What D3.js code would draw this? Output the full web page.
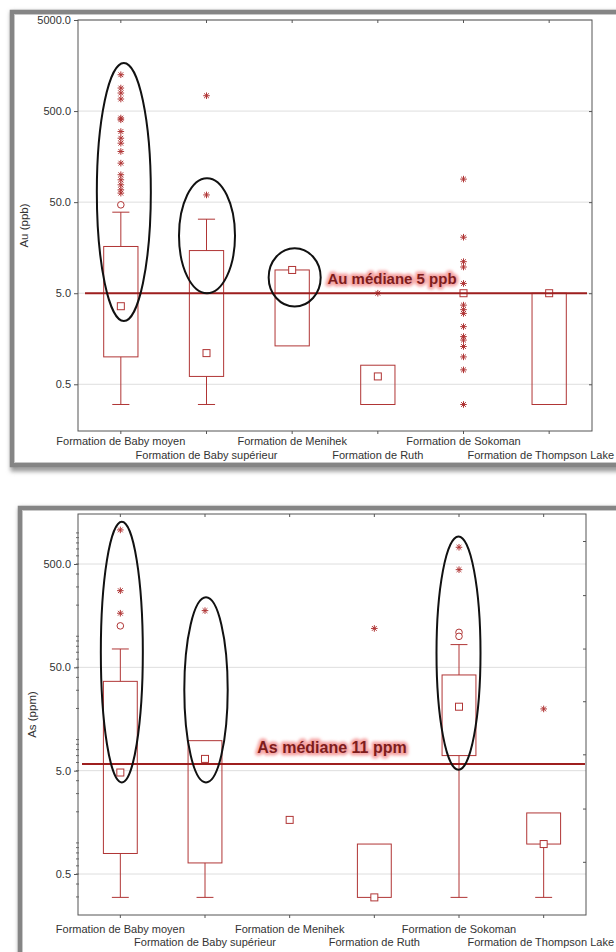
<!DOCTYPE html>
<html><head><meta charset="utf-8">
<script src="https://cdn.jsdelivr.net/npm/d3@7"></script>
<style>body{margin:0;background:#fff}svg{display:block}text{font-family:"Liberation Sans",Arial,sans-serif}</style>
</head><body>
<script>
// ---------- DATA ----------
const categories = ["Formation de Baby moyen","Formation de Baby supérieur","Formation de Menihek","Formation de Ruth","Formation de Sokoman","Formation de Thompson Lake"];

// Au (ppb)
const auTicks = [5000, 500, 50, 5, 0.5];
const auMedian = [3.6, 1.1, 9.0, 0.61, 5.0, 5.0];
const auQ1 = [1.0, 0.61, 1.32, 0.30, null, 0.30];
const auQ3 = [16.3, 14.7, 9.0, 0.81, null, 5.0];
const auMin = [0.30, 0.30, null, null, null, null];
const auMax = [38.8, 32.5, null, null, null, null];
const auOutliers = [[46.7], [], [], [], [], []];
const auExtremes = [
  [1253, 895, 789, 678, 419, 401, 298, 252, 222, 180, 134, 100, 88, 77.5, 68.3, 62.8],
  [737, 60], [], [5.0],
  [89.5, 20.6, 11.1, 9.7, 6.4, 3.7, 3.3, 3.0, 2.15, 1.67, 1.53, 1.3, 1.0, 0.72, 0.30],
  []];
const auMedianLine = 5;
const auMedianLabel = "Au médiane 5 ppb";
const auEllipses = [ // [category index, top value, bottom value]
  [0, 1687, 2.48], [1, 91.6, 5.0], [2, 15.6, 3.57]];

// As (ppm)
const asTicks = [500, 50, 5, 0.5];
const asRightTicks = [835, 250, 76, 23.5, 7.2, 2.15, 0.656];
const asMedian = [4.8, 6.5, 1.67, 0.297, 20.8, 0.975];
const asQ1 = [0.79, 0.64, null, 0.297, 7.0, 0.975];
const asQ3 = [36.6, 9.76, null, 0.975, 42.2, 1.95];
const asMin = [0.297, 0.297, null, null, 0.297, 0.297];
const asMax = [75.3, null, null, null, 83, null];
const asOutliers = [[126], [], [], [], [109, 99.8], []];
const asExtremes = [[1069, 276, 167], [177], [], [119], [726, 441], [19.8]];
const asMedianLine = 5.8;
const asMedianLabel = "As médiane 11 ppm";
const asEllipses = [[0, 1285, 3.85], [1, 238, 3.85], [4, 925, 5.1]];

// ---------- DRAW ----------
const W = 616, H = 952;
const svg = d3.select("body").append("svg").attr("width", W).attr("height", H);
const defs = svg.append("defs");
const blur = defs.append("filter").attr("id","blur").attr("x","-10%").attr("y","-10%").attr("width","120%").attr("height","120%");
blur.append("feGaussianBlur").attr("stdDeviation", 2.2);
const glow = defs.append("filter").attr("id","glow").attr("x","-20%").attr("y","-50%").attr("width","140%").attr("height","200%");
glow.append("feGaussianBlur").attr("stdDeviation", 1.6);

const RED = "#b03535";

function frame(x0, y0, w, h) {
  svg.append("rect").attr("x", x0 + 2).attr("y", y0 + 3).attr("width", w).attr("height", h)
    .attr("fill", "none").attr("stroke", "#9a9a9a").attr("stroke-width", 7).attr("filter", "url(#blur)");
  svg.append("rect").attr("x", x0).attr("y", y0).attr("width", w).attr("height", h)
    .attr("fill", "#fff").attr("stroke", "#858585").attr("stroke-width", 4.5);
  svg.append("rect").attr("x", x0 + 2.5).attr("y", y0 + 2.5).attr("width", w - 5).attr("height", h - 5)
    .attr("fill", "none").attr("stroke", "#c8c8c8").attr("stroke-width", 1);
}

function starPath(r) {
  const d = r * 0.72;
  return `M0,${-r}V${r}M${-r},0H${r}M${-d},${-d}L${d},${d}M${-d},${d}L${d},${-d}`;
}

function panel(o) {
  const g = svg.append("g");
  const x = d3.scaleBand().domain(categories).range([o.left, o.right]);
  const y = d3.scaleLog().domain(o.domain).range([o.bottom, o.top]);
  const cx = i => x(categories[i]) + x.bandwidth() / 2;
  const bw = x.bandwidth() * 0.4, cap = x.bandwidth() * 0.2;

  // grid
  g.append("g").selectAll("line").data(o.ticks).join("line")
    .attr("x1", o.left).attr("x2", o.right)
    .attr("y1", d => y(d)).attr("y2", d => y(d))
    .attr("stroke", "#dedede").attr("stroke-width", 1);

  // plot border
  g.append("rect").attr("x", o.left).attr("y", o.top)
    .attr("width", o.right - o.left).attr("height", o.bottom - o.top)
    .attr("fill", "none").attr("stroke", "#555").attr("stroke-width", 1);

  // left axis
  const la = g.append("g").attr("transform", `translate(${o.left},0)`)
    .call(d3.axisLeft(y).tickValues(o.ticks).tickFormat(d3.format(".1f")).tickSize(4).tickPadding(3));
  la.select(".domain").remove();
  la.selectAll("line").attr("stroke", "#555");
  la.selectAll("text").attr("font-size", 11).attr("fill", "#333").attr("font-family", '"Liberation Sans", Arial, sans-serif');
  if (o.minor) {
    const minor = [];
    const [lo, hi] = o.domain;
    for (let e = Math.floor(Math.log10(lo)); e <= Math.ceil(Math.log10(hi)); e++)
      for (let m = 1; m <= 9; m++) { const v = m * Math.pow(10, e); if (v >= lo && v <= hi) minor.push(v); }
    g.append("g").selectAll("line").data(minor).join("line")
      .attr("x1", o.left - 2).attr("x2", o.left + 1)
      .attr("y1", d => y(d)).attr("y2", d => y(d)).attr("stroke", "#666");
  }
  // right axis ticks
  const ra = g.append("g").attr("transform", `translate(${o.right},0)`)
    .call(d3.axisRight(y).tickValues(o.rightTicks).tickFormat("").tickSize(-3));
  ra.select(".domain").remove(); ra.selectAll("line").attr("stroke", "#555");
  // top ticks
  const ta = g.append("g").attr("transform", `translate(0,${o.top})`)
    .call(d3.axisTop(x).tickFormat("").tickSize(-3));
  ta.select(".domain").remove(); ta.selectAll("line").attr("stroke", "#555");
  // bottom ticks
  const ba = g.append("g").attr("transform", `translate(0,${o.bottom})`)
    .call(d3.axisBottom(x).tickFormat("").tickSize(3));
  ba.select(".domain").remove(); ba.selectAll("line").attr("stroke", "#555");

  // x labels, staggered (kept inside the page)
  g.append("g").selectAll("text").data(categories).join("text")
    .attr("x", (d, i) => cx(i))
    .attr("y", (d, i) => o.bottom + (i % 2 === 0 ? o.lab1 : o.lab2))
    .attr("text-anchor", "middle").attr("font-size", 11).attr("fill", "#333")
    .text(d => d)
    .each(function () {
      const b = this.getBBox();
      if (b.x + b.width > W - 2) d3.select(this).attr("text-anchor", "end").attr("x", W - 2);
    });

  // y title
  g.append("text").attr("transform", `translate(${o.titleX},${(o.top + o.bottom) / 2}) rotate(-90)`)
    .attr("text-anchor", "middle").attr("font-size", 11.5).attr("fill", "#333").text(o.title);

  // boxes
  const idx = d3.range(categories.length);
  const bg = g.append("g").attr("fill", "none").attr("stroke", RED).attr("stroke-width", 1);
  idx.forEach(i => {
    const c = cx(i);
    if (o.max[i] != null) {
      bg.append("line").attr("x1", c).attr("x2", c).attr("y1", y(o.q3[i])).attr("y2", y(o.max[i]));
      bg.append("line").attr("x1", c - cap / 2).attr("x2", c + cap / 2).attr("y1", y(o.max[i])).attr("y2", y(o.max[i]));
    }
    if (o.min[i] != null) {
      const from = o.q1[i] != null ? o.q1[i] : o.median[i];
      bg.append("line").attr("x1", c).attr("x2", c).attr("y1", y(from)).attr("y2", y(o.min[i]));
      bg.append("line").attr("x1", c - cap / 2).attr("x2", c + cap / 2).attr("y1", y(o.min[i])).attr("y2", y(o.min[i]));
    }
    if (o.q1[i] != null && o.q3[i] != null) {
      bg.append("rect").attr("x", c - bw / 2).attr("width", bw)
        .attr("y", y(o.q3[i])).attr("height", Math.max(0.5, y(o.q1[i]) - y(o.q3[i])));
    }
    bg.append("rect").attr("x", c - 3.5).attr("y", y(o.median[i]) - 3.5)
      .attr("width", 7).attr("height", 7).attr("fill", "#fff");
    o.outliers[i].forEach(v => bg.append("circle").attr("cx", c).attr("cy", y(v)).attr("r", 3.3).attr("fill", "#fff"));
    o.extremes[i].forEach(v => bg.append("path").attr("d", starPath(3.3))
      .attr("transform", `translate(${c},${y(v)})`).attr("stroke-width", 1));
  });

  // median line with glow
  const ly = y(o.medLine);
  g.append("line").attr("x1", o.medX1).attr("x2", o.medX2).attr("y1", ly).attr("y2", ly)
    .attr("stroke", "#f08c8c").attr("stroke-opacity", 0.8).attr("stroke-width", 7).attr("filter", "url(#glow)");
  g.append("line").attr("x1", o.medX1).attr("x2", o.medX2).attr("y1", ly).attr("y2", ly)
    .attr("stroke", "#9e1f1f").attr("stroke-width", 2);
  const lab = g.append("g").attr("transform", `translate(${o.labX},${ly - o.labDy})`);
  lab.append("text").attr("font-family", "Lato, 'Open Sans', sans-serif").attr("font-size", o.labSize)
    .attr("font-weight", 700).attr("stroke", "#f5a3a3").attr("stroke-width", 5).attr("fill", "#f5a3a3")
    .attr("stroke-linejoin", "round")
    .attr("filter", "url(#glow)").attr("text-anchor", "middle").text(o.medLabel);
  lab.append("text").attr("font-family", "Lato, 'Open Sans', sans-serif").attr("font-size", o.labSize)
    .attr("font-weight", 700).attr("fill", "#7e1c1c").attr("text-anchor", "middle").text(o.medLabel);

  // annotation ellipses
  g.append("g").selectAll("ellipse").data(o.ellipses).join("ellipse")
    .attr("cx", d => cx(d[0]) + (o.ellOff[d[0]] || 0))
    .attr("cy", d => (y(d[1]) + y(d[2])) / 2)
    .attr("ry", d => (y(d[2]) - y(d[1])) / 2)
    .attr("rx", (d, i) => o.ellRx[i])
    .attr("fill", "none").attr("stroke", "#111").attr("stroke-width", 2);
}

// frames
frame(12, 12, 640, 453);
frame(20, 508, 640, 500);

panel({
  left: 78, right: 592, top: 20, bottom: 431,
  domain: [0.1535, 5000], ticks: auTicks, rightTicks: [500, 50, 5, 0.5], minor: false,
  lab1: 14, lab2: 28, title: "Au (ppb)", titleX: 28,
  median: auMedian, q1: auQ1, q3: auQ3, min: auMin, max: auMax,
  outliers: auOutliers, extremes: auExtremes,
  medLine: auMedianLine, medLabel: auMedianLabel, medX1: 85, medX2: 587,
  labX: 392, labDy: 9, labSize: 15,
  ellipses: auEllipses, ellRx: [27, 28, 26], ellOff: {0: 3, 1: 0.5, 2: 2.5}
});

panel({
  left: 78, right: 586, top: 514, bottom: 915,
  domain: [0.2006, 1524], ticks: asTicks, rightTicks: asRightTicks, minor: true,
  lab1: 18, lab2: 31, title: "As (ppm)", titleX: 36,
  median: asMedian, q1: asQ1, q3: asQ3, min: asMin, max: asMax,
  outliers: asOutliers, extremes: asExtremes,
  medLine: asMedianLine, medLabel: asMedianLabel, medX1: 82, medX2: 585,
  labX: 332, labDy: 11, labSize: 16,
  ellipses: asEllipses, ellRx: [21, 21.7, 22], ellOff: {0: 1.5, 1: 1, 4: -0.5}
});
</script>
</body></html>
